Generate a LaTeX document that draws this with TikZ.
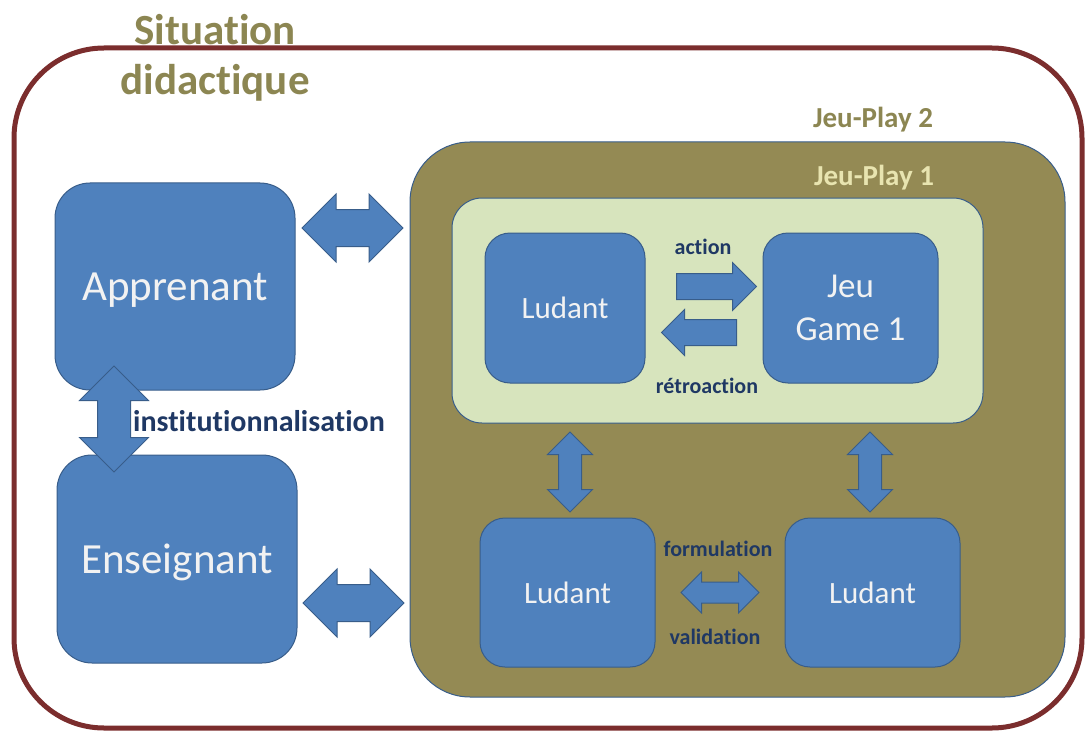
\documentclass[tikz,border=0pt]{standalone}
\usepackage{fontspec}
\setmainfont{Carlito}[Ligatures=NoCommon]
\usepackage{tikz}
\usetikzlibrary{shapes,shapes.arrows,calc,positioning}

\definecolor{frameRed}{RGB}{123,45,45}
\definecolor{playOlive}{RGB}{148,138,84}
\definecolor{oliveText}{RGB}{140,134,82}
\definecolor{paleText}{RGB}{232,228,176}
\definecolor{paleGreen}{RGB}{215,228,189}
\definecolor{boxBlue}{RGB}{79,129,189}
\definecolor{boxEdge}{RGB}{56,93,138}
\definecolor{labelBlue}{RGB}{31,56,100}

\begin{document}
\begin{tikzpicture}[x=1pt, y=-1pt,
  box/.style={rectangle, rounded corners=25pt, fill=boxBlue, draw=boxEdge, line width=1pt, inner sep=0, text=white!95!black, align=center, text depth=0pt, font=\fontsize{31}{37}\selectfont},
  playbox/.style={rectangle, draw=boxEdge, line width=1pt, inner sep=0},
  playlabel/.style={inner sep=0, font=\bfseries\fontsize{29}{34}\selectfont},
  dblarrow/.style={double arrow, double arrow head extend=#1, fill=boxBlue, draw=boxEdge, line width=1pt, inner xsep=0},
  sglarrow/.style={single arrow, single arrow head extend=#1, fill=boxBlue, draw=boxEdge, line width=1pt, inner xsep=0},
  label/.style={inner sep=0, text=labelBlue, font=\bfseries\fontsize{22}{26}\selectfont}]

\useasboundingbox (0,0) rectangle (1090,733);

% outer frame and title
\node[draw=frameRed, line width=5pt, rounded corners=90pt, minimum width=1068pt, minimum height=680pt] (situation) at (548,388) {};
\node[anchor=north, inner sep=0, align=center, text=oliveText, font=\bfseries\fontsize{43}{50}\selectfont] (titleSit) at (215,14) {Situation\\didactique};

% play areas
\node[playbox, fill=playOlive, minimum width=655pt, minimum height=555pt, rounded corners=60pt] (jeu2) at (737.5,419.5) {};
\node[playbox, fill=paleGreen, minimum width=531pt, minimum height=225pt, rounded corners=30pt] (jeu1) at (717.5,310.5) {};
\node[playlabel, text=oliveText] (labelJeu2) at (873,120) {Jeu-Play 2};
\node[playlabel, text=paleText]  (labelJeu1) at (874,178) {Jeu-Play 1};

% actors
\node[box, minimum width=240pt, minimum height=207pt, rounded corners=35pt, font=\fontsize{43}{50}\selectfont] (apprenant)  at (175,286.5) {Apprenant};
\node[box, minimum width=240pt, minimum height=208pt, rounded corners=35pt, font=\fontsize{43}{50}\selectfont] (enseignant) at (177,559) {Enseignant};
\node[box, minimum width=160pt, minimum height=150pt] (ludantTop)   at (565,308)     {Ludant};
\node[box, minimum width=175pt, minimum height=150pt, font=\fontsize{35}{43}\selectfont] (jeu) at (850.5,308) {Jeu\\Game 1};
\node[box, minimum width=175pt, minimum height=149pt] (ludantLeft)  at (567.5,592.5) {Ludant};
\node[box, minimum width=175pt, minimum height=149pt] (ludantRight) at (872.5,592.5) {Ludant};

% block arrows
\node[dblarrow=15.5pt, inner ysep=18pt, minimum height=101pt] (linkApp) at ($(apprenant.east)!.5!(apprenant.east -| jeu2.west) + (0,-58.5)$) {};
\node[dblarrow=15.5pt, inner ysep=18pt, minimum height=101pt] (linkEns) at ($(enseignant.east)!.5!(enseignant.east -| jeu2.west) + (0,44)$) {};
\node[dblarrow=18pt, inner ysep=16pt, rotate=90, minimum height=106pt] (linkInst) at ($(apprenant.south)!.5!(enseignant.north) + (-62,-3.5)$) {};

\node[sglarrow=11pt, inner ysep=12.5pt, minimum height=80pt] (actArrow) at ($(ludantTop.east)!.5!(jeu.west) + (6,-21.5)$) {};
\node[sglarrow=10pt, inner ysep=12.5pt, rotate=180, minimum height=75pt] (retroArrow) at ($(ludantTop.east)!.5!(jeu.west) + (1.5,24.5)$) {};

\node[dblarrow=11pt, inner ysep=11pt, rotate=90, minimum height=80pt] (linkLeft)  at ($(jeu1.south -| ludantLeft)!.5!(ludantLeft.north) + (2.5,1.5)$) {};
\node[dblarrow=11pt, inner ysep=11pt, rotate=90, minimum height=80pt] (linkRight) at ($(jeu1.south -| ludantRight)!.5!(ludantRight.north) + (-2.5,1.5)$) {};
\node[dblarrow=10pt, inner ysep=10pt, minimum height=78pt] (linkForm) at ($(ludantLeft.east)!.5!(ludantRight.west)$) {};

% arrow labels
\node[label, anchor=west, font=\bfseries\fontsize{30}{36}\selectfont] (instLabel) at ($(linkInst.center)+(19,2)$) {institutionnalisation};
\node[label] (actLabel)   at ($(actArrow.center)+(-7,-39.5)$)   {action};
\node[label] (retroLabel) at ($(retroArrow.center)+(1.5,53.5)$) {rétroaction};
\node[label] (formLabel)  at ($(linkForm.center)+(-2,-43.5)$)   {formulation};
\node[label] (validLabel) at ($(linkForm.center)+(-5,44.5)$)    {validation};
\end{tikzpicture}
\end{document}
